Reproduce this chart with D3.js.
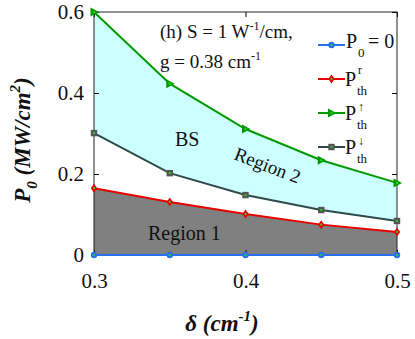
<!DOCTYPE html>
<html lang="en">
<head>
  <meta charset="UTF-8">
  <title>P0 vs delta</title>
  <script src="https://d3js.org/d3.v7.min.js"></script>
  <style>
    body { margin: 0; background: white; }
    svg text { font-family: "Liberation Serif", "Times New Roman", serif; fill: #111; }
  </style>
</head>
<body>
  <svg id="chart" width="415" height="339" font-family="Liberation Serif, serif"></svg>

  <script>
    const delta = [0.3, 0.35, 0.4, 0.45, 0.5];
    const pZero = [0, 0, 0, 0, 0];
    const pR = [0.165, 0.131, 0.101, 0.075, 0.057];
    const pUp = [0.6, 0.423, 0.311, 0.234, 0.178];
    const pDown = [0.301, 0.202, 0.148, 0.111, 0.084];
    const xTicks = [0.3, 0.4, 0.5];
    const yTicks = [0, 0.2, 0.4, 0.6];

    const svg = d3.select("#chart");
    const margin = { top: 12, right: 18, bottom: 84, left: 94 };
    const width = +svg.attr("width") - margin.left - margin.right;
    const height = +svg.attr("height") - margin.top - margin.bottom;
    const g = svg.append("g").attr("transform", `translate(${margin.left},${margin.top})`);

    const x = d3.scaleLinear().domain([0.3, 0.5]).range([0, width]);
    const y = d3.scaleLinear().domain([0, 0.6]).range([height, 0]);

    const rows = delta.map((d, i) => ({ d, z: pZero[i], r: pR[i], up: pUp[i], down: pDown[i] }));

    // shaded regions
    g.append("path")
      .datum(rows)
      .attr("fill", "#ccffff")
      .attr("d", d3.area().x(d => x(d.d)).y0(d => y(d.down)).y1(d => y(d.up)));
    g.append("path")
      .datum(rows)
      .attr("fill", "#808080")
      .attr("d", d3.area().x(d => x(d.d)).y0(d => y(d.z)).y1(d => y(d.r)));

    // frame + inward ticks
    const tickLen = 5;
    const serif = a => a.attr("font-family", "Liberation Serif, serif");
    g.append("g").call(d3.axisLeft(y).tickValues(yTicks).tickSizeInner(-tickLen).tickSizeOuter(0).tickPadding(10).tickFormat(d => d === 0 ? "0" : d3.format(".1f")(d)))
      .call(serif)
      .call(a => a.select(".domain").remove())
      .call(a => a.selectAll("text").style("font-size", "21px").attr("fill", "#222"));
    g.append("g").attr("transform", `translate(${width},0)`)
      .call(d3.axisRight(y).tickValues(yTicks).tickSizeInner(-tickLen).tickSizeOuter(0).tickFormat(""))
      .call(a => a.select(".domain").remove());
    g.append("g").attr("transform", `translate(0,${height})`)
      .call(d3.axisBottom(x).tickValues(xTicks).tickSizeInner(-tickLen).tickSizeOuter(0).tickPadding(18).tickFormat(d3.format(".1f")))
      .call(serif)
      .call(a => a.select(".domain").remove())
      .call(a => a.selectAll("text").style("font-size", "21px").attr("fill", "#222"));
    g.append("g")
      .call(d3.axisTop(x).tickValues(xTicks).tickSizeInner(-tickLen).tickSizeOuter(0).tickFormat(""))
      .call(a => a.select(".domain").remove());
    g.append("rect").attr("width", width).attr("height", height)
      .attr("fill", "none").attr("stroke", "#222").attr("stroke-width", 1);

    // series
    const series = [
      { key: "z", color: "#2a6ff0", shape: "circle" },
      { key: "r", color: "#e80000", shape: "diamond" },
      { key: "up", color: "#009a00", shape: "tri" },
      { key: "down", color: "#2f4a4a", shape: "square" }
    ];

    function marker(sel, shape, color) {
      if (shape === "circle") {
        sel.append("circle").attr("r", 3.2).attr("fill", color);
      } else if (shape === "diamond") {
        sel.append("path").attr("d", "M0,-4.5L3.2,0L0,4.5L-3.2,0Z").attr("fill", color);
      } else if (shape === "tri") {
        sel.append("path").attr("d", "M-3.5,-4.5L5,0L-3.5,4.5Z").attr("fill", color);
      } else {
        sel.append("rect").attr("x", -3.2).attr("y", -3.2).attr("width", 6.4).attr("height", 6.4).attr("fill", "#555");
      }
      sel.append("circle").attr("r", 1.1).attr("fill", "#22dd22");
    }

    const line = key => d3.line().x(d => x(d.d)).y(d => y(d[key]));
    series.forEach(s => {
      g.append("path").datum(rows)
        .attr("fill", "none").attr("stroke", s.color).attr("stroke-width", 2)
        .attr("d", line(s.key));
      g.selectAll(null).data(rows).enter().append("g")
        .attr("transform", d => `translate(${x(d.d)},${y(d[s.key])})`)
        .each(function () { marker(d3.select(this), s.shape, s.color); });
    });

    // annotations
    g.append("text").attr("x", 66).attr("y", 26).style("font-size", "19px")
      .html('(h) S = 1 W<tspan dy="-8" font-size="12">-1</tspan><tspan dy="8">/cm,</tspan>');
    g.append("text").attr("x", 66).attr("y", 56).style("font-size", "19px")
      .html('g = 0.38 cm<tspan dy="-8" font-size="12">-1</tspan>');
    g.append("text").attr("x", 81).attr("y", 134).style("font-size", "20px").text("BS");
    g.append("text").attr("transform", "translate(139,147) rotate(21)").style("font-size", "19px").text("Region 2");
    g.append("text").attr("x", 54).attr("y", 228).style("font-size", "20px").text("Region 1");

    // legend
    const legend = svg.append("g").attr("transform", "translate(318,0)");
    const legY = [45, 79, 113, 147];
    series.forEach((s, i) => {
      const row = legend.append("g").attr("transform", `translate(0,${legY[i]})`);
      row.append("line").attr("x1", 0).attr("x2", 27).attr("stroke", s.color).attr("stroke-width", 2);
      const m = row.append("g").attr("transform", "translate(13.5,0)");
      marker(m, s.shape, s.color);
      if (i === 0) {
        row.append("text").attr("x", 28).attr("y", 3).style("font-size", "20px").text("P");
        row.append("text").attr("x", 40).attr("y", 12).style("font-size", "13px").text("0");
        row.append("text").attr("x", 50).attr("y", 3).style("font-size", "20px").text("= 0");
      } else {
        row.append("text").attr("x", 27).attr("y", 7).style("font-size", "20px").text("P");
        row.append("text").attr("x", 39).attr("y", 16).style("font-size", "13px").text("th");
        const sup = i === 1 ? "r" : (i === 2 ? "\u2191" : "\u2193");
        row.append("text").attr("x", 40).attr("y", i === 1 ? -5 : -2).style("font-size", "12px").text(sup);
      }
    });

    // axis titles
    svg.append("text")
      .attr("transform", "translate(30,140) rotate(-90)")
      .attr("text-anchor", "middle")
      .style("font-size", "23px").style("font-weight", "bold").style("font-style", "italic")
      .html('P<tspan dy="7" font-size="15">0</tspan><tspan dy="-7"> (MW/cm</tspan><tspan dy="-10" font-size="15">2</tspan><tspan dy="10">)</tspan>');
    svg.append("text")
      .attr("x", 222).attr("y", 331)
      .attr("text-anchor", "middle")
      .style("font-size", "23px").style("font-weight", "bold").style("font-style", "italic")
      .html('\u03b4 (cm<tspan dy="-10" font-size="15">-1</tspan><tspan dy="10">)</tspan>');
  </script>
</body>
</html>
